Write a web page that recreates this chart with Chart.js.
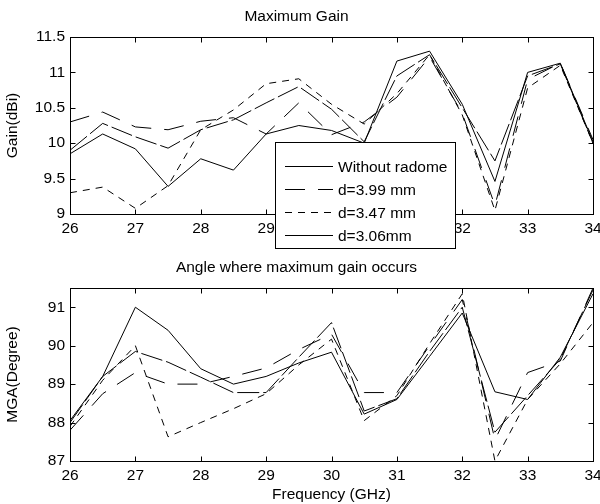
<!DOCTYPE html>
<html>
<head>
<meta charset="utf-8">
<script src="https://cdn.jsdelivr.net/npm/chart.js@4.4.0/dist/chart.umd.min.js"></script>
<style>
html, body { margin: 0; padding: 0; background: #fff; }
#wrap { position: relative; width: 600px; height: 504px; }
canvas { position: absolute; left: 0; }
#gainChart { top: 0; }
#angleChart { top: 252px; }
</style>
</head>
<body>
<div id="wrap">
<canvas id="gainChart" width="600" height="252"></canvas>
<canvas id="angleChart" width="600" height="252"></canvas>
</div>
<script>
const freqs = [26, 26.5, 27, 27.5, 28, 28.5, 29, 29.5, 30, 30.5, 31, 31.5, 32, 32.5, 33, 33.5, 34];
const seriesNames = ['Without radome', 'd=3.99 mm', 'd=3.47 mm', 'd=3.06mm'];

// maximum gain (dBi)
const gainNoRadome = [9.85, 10.13, 9.92, 9.39, 9.78, 9.62, 10.13, 10.25, 10.18, 10.0, 11.16, 11.30, 10.55, 9.46, 11.0, 11.13, 10.02];
const gainD399 = [10.3, 10.44, 10.23, 10.19, 10.31, 10.36, 10.13, 10.57, 10.12, 10.3, 10.65, 11.22, 10.42, 9.12, 10.9, 11.13, 10.05];
const gainD347 = [9.3, 9.38, 9.08, 9.4, 10.19, 10.47, 10.84, 10.91, 10.55, 10.27, 10.7, 11.25, 10.4, 9.05, 10.78, 11.1, 10.0];
const gainD306 = [9.9, 10.28, 10.09, 9.93, 10.19, 10.33, 10.57, 10.80, 10.48, 10.02, 10.95, 11.25, 10.5, 9.75, 10.95, 11.12, 10.0];

// angle of maximum gain (degree)
const angleNoRadome = [88.05, 89.2, 91.0, 90.4, 89.4, 89.0, 89.2, 89.55, 89.83, 88.22, 88.6, 89.72, 90.85, 88.8, 88.6, 89.7, 91.35];
const angleD399 = [87.8, 88.75, 89.3, 89.0, 89.0, 89.2, 89.42, 89.9, 90.3, 88.78, 88.78, 90.0, 91.2, 87.55, 89.3, 89.6, 91.5];
const angleD347 = [87.9, 89.1, 90.0, 87.63, 88.0, 88.36, 88.75, 89.5, 90.17, 88.05, 88.7, 90.05, 91.35, 87.0, 88.6, 89.53, 90.6];
const angleD306 = [88.0, 89.2, 89.85, 89.57, 89.18, 88.78, 88.78, 89.7, 90.6, 88.3, 88.62, 89.85, 91.0, 87.75, 88.7, 89.65, 91.45];

const freqTicks = [26, 27, 28, 29, 30, 31, 32, 33, 34];
const gainTicks = [9, 9.5, 10, 10.5, 11, 11.5];
const angleTicks = [87, 88, 89, 90, 91];

// line styles per series
const lineDashes = [[], [20, 13], [7, 6], [22, 4]];
const legendDashes = [[], [20, 13], [7, 6], []];

Chart.defaults.font.family = "Arial, 'Liberation Sans', sans-serif";
Chart.defaults.font.size = 15.5;
Chart.defaults.color = '#000';

const framePlugin = {
    id: 'frame',
    afterDatasetsDraw(chart) {
        const { ctx, chartArea: a, scales: { x, y } } = chart;
        const l = Math.round(a.left) + 0.5, r = Math.round(a.right) + 0.5;
        const t = Math.round(a.top) + 0.5, b = Math.round(a.bottom) + 0.5;
        ctx.save();
        ctx.strokeStyle = '#000';
        ctx.lineWidth = 1;
        ctx.strokeRect(l, t, r - l, b - t);
        ctx.beginPath();
        x.ticks.forEach(tk => {
            const px = Math.round(x.getPixelForValue(tk.value)) + 0.5;
            ctx.moveTo(px, b); ctx.lineTo(px, b - 5);
            ctx.moveTo(px, t); ctx.lineTo(px, t + 5);
        });
        y.ticks.forEach(tk => {
            const py = Math.round(y.getPixelForValue(tk.value)) + 0.5;
            ctx.moveTo(l, py); ctx.lineTo(l + 5, py);
            ctx.moveTo(r, py); ctx.lineTo(r - 5, py);
        });
        ctx.stroke();
        ctx.restore();
    }
};

const boxLegend = {
    id: 'boxLegend',
    afterDraw(chart, args, opts) {
        if (!opts.show) return;
        const ctx = chart.ctx;
        ctx.save();
        ctx.fillStyle = '#fff';
        ctx.fillRect(275.5, 142.5, 180, 106);
        ctx.strokeStyle = '#000';
        ctx.lineWidth = 1;
        ctx.strokeRect(275.5, 142.5, 180, 106);
        ctx.font = "15.5px Arial, 'Liberation Sans', sans-serif";
        ctx.textBaseline = 'middle';
        ctx.fillStyle = '#000';
        chart.data.datasets.forEach((ds, i) => {
            const yy = Math.round(165.5 + i * 23.2) + 0.5;
            ctx.setLineDash(legendDashes[i]);
            ctx.beginPath();
            ctx.moveTo(285, yy); ctx.lineTo(333, yy);
            ctx.stroke();
            ctx.setLineDash([]);
            ctx.fillText(ds.label, 338, yy + 1);
        });
        ctx.restore();
    }
};

function makeChart(id, title, titlePad, yTitle, yMin, yMax, yTicks, series, xTitle, xHeight, showLegend) {
    const ctx = document.getElementById(id).getContext('2d');
    return new Chart(ctx, {
        type: 'line',
        data: {
            datasets: series.map((vals, i) => ({
                label: seriesNames[i],
                data: freqs.map((f, k) => ({ x: f, y: vals[k] })),
                borderColor: '#000',
                borderWidth: 1,
                borderDash: lineDashes[i],
                pointRadius: 0,
                tension: 0,
                fill: false
            }))
        },
        options: {
            responsive: false,
            animation: false,
            layout: { padding: { top: 0, right: 7, left: 0, bottom: 0 } },
            plugins: {
                legend: { display: false },
                tooltip: { enabled: false },
                title: {
                    display: true,
                    text: title,
                    color: '#000',
                    font: { size: 15.5, weight: 'normal' },
                    padding: titlePad
                },
                boxLegend: { show: showLegend }
            },
            scales: {
                x: {
                    type: 'linear',
                    min: 26,
                    max: 34,
                    afterBuildTicks: s => { s.ticks = freqTicks.map(v => ({ value: v })); },
                    afterFit: s => { s.height = xHeight; s.paddingLeft = 0; s.paddingRight = 0; },
                    grid: { display: false, drawTicks: false },
                    border: { display: false },
                    ticks: { padding: 5, maxRotation: 0, autoSkip: false, color: '#000' },
                    title: { display: !!xTitle, text: xTitle || '', color: '#000', padding: { top: 0, bottom: 0 } }
                },
                y: {
                    min: yMin,
                    max: yMax,
                    afterBuildTicks: s => { s.ticks = yTicks.map(v => ({ value: v })); },
                    afterFit: s => { s.width = 70; },
                    grid: { display: false, drawTicks: false },
                    border: { display: false },
                    ticks: { padding: 5, color: '#000', callback: v => String(v) },
                    title: { display: true, text: yTitle, color: '#000', padding: { top: 3, bottom: 0 } }
                }
            }
        },
        plugins: [framePlugin, boxLegend]
    });
}

makeChart('gainChart', 'Maximum Gain', { top: 7.2, bottom: 11.2 }, 'Gain(dBi)', 9, 11.5, gainTicks,
    [gainNoRadome, gainD399, gainD347, gainD306], '', 38, true);
makeChart('angleChart', 'Angle where maximum gain occurs', { top: 6.5, bottom: 10.9 }, 'MGA(Degree)', 87, 91.5, angleTicks,
    [angleNoRadome, angleD399, angleD347, angleD306], 'Frequency (GHz)', 43, false);
</script>
</body>
</html>
